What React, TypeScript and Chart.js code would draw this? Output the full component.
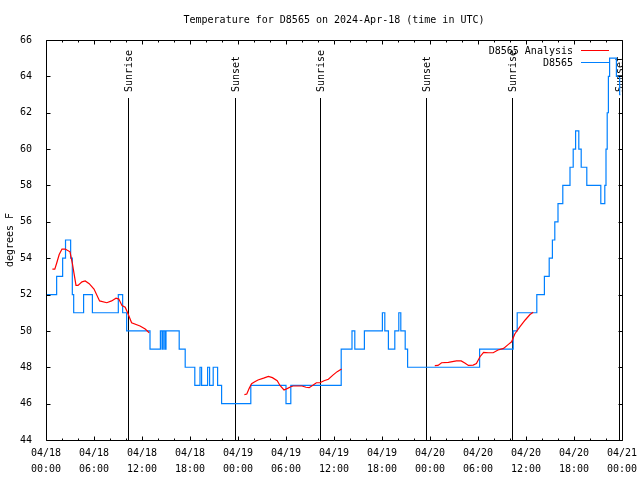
import React, { useEffect, useRef } from 'react';
import { Chart, registerables } from 'chart.js';

Chart.register(...registerables);

const TITLE = 'Temperature for D8565 on 2024-Apr-18 (time in UTC)';
const Y_LABEL = 'degrees F';
const ANALYSIS_NAME = 'D8565 Analysis';
const STATION_NAME = 'D8565';

// hours since 04/18 00:00 UTC; null = gap between analysis runs
const analysisHours = [
  0.8, 1.1, 1.35, 1.65, 2.0, 2.4, 3.0, 3.3, 3.75, 4.0, 4.5, 4.9, 5.4, 6.0, 6.7, 7.6, 8.2, 8.75, 9.1, 9.5, 9.9, 10.2, 10.7, 11.75, 12.4, 12.9,
  18,
  24.8, 25.1, 25.4, 25.7, 26.1, 26.5, 27.2, 27.8, 28.3, 28.9, 29.25, 29.75, 30.2, 30.6, 30.9, 32.0, 32.5, 32.9, 33.4, 33.8, 34.25, 34.75, 35.3, 35.9, 36.4, 36.95,
  42,
  48.6, 49.0, 49.45, 50.3, 51.3, 51.9, 52.4, 52.8, 53.4, 53.8, 54.25, 54.7, 55.3, 55.9, 56.5, 57.2, 57.8, 58.2, 58.6, 59.25, 59.9, 60.5, 60.9,
];
const analysisTemps = [
  53.4, 53.4, 53.75, 54.2, 54.5, 54.5, 54.35, 53.7, 52.5, 52.5, 52.7, 52.75, 52.6, 52.3, 51.65, 51.55, 51.65, 51.8, 51.75, 51.4, 51.3, 51.0, 50.45, 50.27, 50.1, 49.9,
  null,
  46.5, 46.53, 46.84, 47.1, 47.2, 47.3, 47.4, 47.5, 47.43, 47.26, 47.0, 46.75, 46.84, 46.93, 46.97, 46.97, 46.9, 46.88, 47.03, 47.15, 47.15, 47.26, 47.34, 47.58, 47.76, 47.9,
  null,
  48.09, 48.1, 48.25, 48.27, 48.35, 48.35, 48.22, 48.1, 48.12, 48.2, 48.58, 48.82, 48.8, 48.8, 48.95, 49.04, 49.26, 49.4, 49.83, 50.23, 50.6, 50.9, 51.02,
];

// station observations: value from this hour on (step plot)
const stationHours = [
  0, 1.33, 2.08, 2.44, 3.08, 3.29, 3.46, 4.7, 5.8, 9.04, 9.58, 10.08, 13.0, 14.3, 14.5, 14.65, 14.85, 15.0, 16.65, 17.4,
  18.6, 19.25, 19.45, 20.2, 20.45, 20.9, 21.45, 21.95, 25.6, 30.0, 30.6, 36.9, 38.25, 38.6, 39.8, 42.05, 42.35, 42.8,
  43.6, 44.1, 44.35, 44.9, 45.2, 54.2, 58.4, 58.9, 61.35, 62.3, 62.9, 63.3, 63.6, 64.0, 64.6, 65.5, 65.9, 66.2, 66.6,
  66.9, 67.6, 69.35, 69.85, 70.0, 70.15, 70.3, 70.45, 71.3, 71.7, 71.8,
];
const stationTemps = [
  52, 53, 54, 55, 54, 52, 51, 52, 51, 52, 51, 50, 49, 50, 49, 50, 49, 50, 49, 48,
  47, 48, 47, 48, 47, 48, 47, 46, 47, 46, 47, 49, 50, 49, 50, 51, 50, 49,
  50, 51, 50, 49, 48, 49, 50, 51, 52, 53, 54, 55, 56, 57, 58, 59, 60, 61, 60,
  59, 58, 57, 58, 60, 62, 64, 65, 64, 63, 63,
];

const sunHours = [10.28, 23.58, 34.27, 47.55, 58.23, 71.6];
const sunLabels = ['Sunrise', 'Sunset', 'Sunrise', 'Sunset', 'Sunrise', 'Sunset'];

const xTickDates = ['04/18', '04/18', '04/18', '04/18', '04/19', '04/19', '04/19', '04/19', '04/20', '04/20', '04/20', '04/20', '04/21'];
const xTickTimes = ['00:00', '06:00', '12:00', '18:00', '00:00', '06:00', '12:00', '18:00', '00:00', '06:00', '12:00', '18:00', '00:00'];

const X_MIN = 0;
const X_MAX = 72;
const X_STEP = 6;
const X_MINOR = 2;
const Y_MIN = 44;
const Y_MAX = 66;
const Y_STEP = 2;

const FONT = '10px "DejaVu Sans Mono"';
const RED = '#ff0000';
const BLUE = '#0080ff';

const gnuplotPlugin = {
  id: 'gnuplotDecor',
  beforeDatasetsDraw(chart: any) {
    const { ctx, chartArea } = chart;
    const xs = chart.scales.x;
    ctx.save();
    ctx.strokeStyle = '#000';
    ctx.lineWidth = 1;
    ctx.fillStyle = '#000';
    ctx.font = FONT;
    sunHours.forEach((h, i) => {
      const px = Math.round(xs.getPixelForValue(h)) + 0.5;
      ctx.beginPath();
      ctx.moveTo(px, chartArea.bottom);
      ctx.lineTo(px, chartArea.top + 58);
      ctx.stroke();
      ctx.save();
      ctx.translate(px + 1, chartArea.top + 52);
      ctx.rotate(-Math.PI / 2);
      ctx.textAlign = 'left';
      ctx.textBaseline = 'middle';
      ctx.fillText(sunLabels[i], 0, 0);
      ctx.restore();
    });
    ctx.restore();
  },
  afterDraw(chart: any) {
    const { ctx, chartArea } = chart;
    const xs = chart.scales.x;
    const ys = chart.scales.y;
    const L = Math.round(chartArea.left) + 0.5;
    const R = Math.round(chartArea.right) + 0.5;
    const T = Math.round(chartArea.top) + 0.5;
    const B = Math.round(chartArea.bottom) + 0.5;
    ctx.save();
    ctx.strokeStyle = '#000';
    ctx.lineWidth = 1;
    ctx.beginPath();
    ctx.rect(L, T, R - L, B - T);
    ctx.stroke();
    // ticks (inward, mirrored)
    ctx.beginPath();
    for (let h = X_MIN; h <= X_MAX; h += X_MINOR) {
      const px = Math.round(xs.getPixelForValue(h)) + 0.5;
      const len = h % X_STEP === 0 ? 4 : 2;
      ctx.moveTo(px, B);
      ctx.lineTo(px, B - len);
      ctx.moveTo(px, T);
      ctx.lineTo(px, T + len);
    }
    for (let v = Y_MIN; v <= Y_MAX; v += Y_STEP) {
      const py = Math.round(ys.getPixelForValue(v)) + 0.5;
      ctx.moveTo(L, py);
      ctx.lineTo(L + 4, py);
      ctx.moveTo(R, py);
      ctx.lineTo(R - 4, py);
    }
    ctx.stroke();

    ctx.fillStyle = '#000';
    ctx.font = FONT;
    // x tick labels (two lines)
    ctx.textAlign = 'center';
    ctx.textBaseline = 'middle';
    xTickDates.forEach((d, i) => {
      const px = xs.getPixelForValue(X_MIN + i * X_STEP);
      ctx.fillText(d, px, chartArea.bottom + 13);
      ctx.fillText(xTickTimes[i], px, chartArea.bottom + 29);
    });
    // title
    ctx.fillText(TITLE, (chartArea.left + chartArea.right) / 2, 20);
    // y label
    ctx.save();
    ctx.translate(10, (chartArea.top + chartArea.bottom) / 2);
    ctx.rotate(-Math.PI / 2);
    ctx.fillText(Y_LABEL, 0, 0);
    ctx.restore();
    // legend
    const tx = chartArea.right - 49;
    ctx.textAlign = 'right';
    ctx.fillText(ANALYSIS_NAME, tx, chartArea.top + 11);
    ctx.fillText(STATION_NAME, tx, chartArea.top + 23);
    ctx.beginPath();
    ctx.strokeStyle = RED;
    ctx.moveTo(tx + 8, chartArea.top + 10.5);
    ctx.lineTo(tx + 36, chartArea.top + 10.5);
    ctx.stroke();
    ctx.beginPath();
    ctx.strokeStyle = BLUE;
    ctx.moveTo(tx + 8, chartArea.top + 22.5);
    ctx.lineTo(tx + 36, chartArea.top + 22.5);
    ctx.stroke();
    ctx.restore();
  },
};

export default function App() {
  const ref = useRef<HTMLCanvasElement | null>(null);
  useEffect(() => {
    if (!ref.current) return;
    const chart = new Chart(ref.current, {
      type: 'line',
      data: {
        datasets: [
          {
            label: ANALYSIS_NAME,
            data: analysisHours.map((h, i) => ({ x: h, y: analysisTemps[i] })),
            borderColor: RED,
            borderWidth: 1.2,
            pointRadius: 0,
            spanGaps: false,
            tension: 0,
          },
          {
            label: STATION_NAME,
            data: stationHours.map((h, i) => ({ x: h, y: stationTemps[i] })),
            borderColor: BLUE,
            borderWidth: 1.2,
            pointRadius: 0,
            stepped: true,
          },
        ],
      } as any,
      options: {
        animation: false,
        responsive: false,
        devicePixelRatio: 1,
        layout: { padding: { top: 40, right: 18, left: 0, bottom: 0 } },
        plugins: { legend: { display: false }, title: { display: false }, tooltip: { enabled: false } },
        scales: {
          x: {
            type: 'linear',
            min: X_MIN,
            max: X_MAX,
            grid: { display: false },
            border: { display: false },
            ticks: { display: false, stepSize: X_STEP },
            afterFit: (s: any) => { s.height = 40; s.paddingLeft = 0; s.paddingRight = 0; },
          },
          y: {
            min: Y_MIN,
            max: Y_MAX,
            grid: { display: false },
            border: { display: false },
            afterFit: (s: any) => { s.width = 46; s.paddingTop = 0; s.paddingBottom = 0; },
            ticks: {
              stepSize: Y_STEP,
              padding: 6,
              color: '#000',
              font: { family: 'DejaVu Sans Mono', size: 10 },
            },
          },
        },
      } as any,
      plugins: [gnuplotPlugin],
    });
    return () => chart.destroy();
  }, []);
  return (
    <div style={{ position: 'absolute', left: 0, top: 0, width: 640, height: 480, background: '#fff' }}>
      <canvas ref={ref} width={640} height={480} style={{ display: 'block' }} />
    </div>
  );
}
